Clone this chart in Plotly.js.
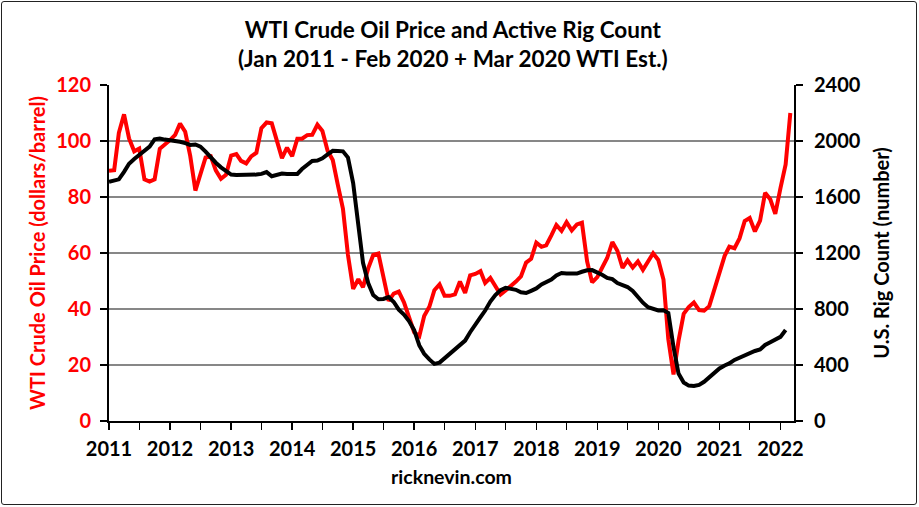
<!DOCTYPE html>
<html>
<head>
<meta charset="utf-8">
<script src="https://cdn.plot.ly/plotly-3.0.1.min.js"></script>
<style>
  html, body { margin: 0; padding: 0; background: #fff; }
  #wrap { position: relative; width: 919px; height: 507px; }
  #chart { position: absolute; left: 0; top: 0; width: 919px; height: 507px; }
  #frame { position: absolute; left: 1px; top: 1px; width: 914px; height: 502px;
           border: 1px solid #222; border-radius: 3px; pointer-events: none; }
</style>
</head>
<body>
<div id="wrap"><div id="chart"></div><div id="frame"></div></div>
<script>
// WTI crude oil monthly price (dollars/barrel), Jan 2011 - Mar 2022
const wti = [
  89.4, 89.6, 102.9, 109.5, 100.9, 96.3, 97.3, 86.3, 85.5, 86.3, 97.2, 98.6,
  100.3, 102.2, 106.2, 103.3, 94.7, 82.3, 87.9, 94.1, 94.5, 89.5, 86.5, 87.9,
  94.8, 95.3, 92.9, 92.0, 94.5, 95.8, 104.6, 106.6, 106.3, 100.5, 93.9, 97.6,
  94.6, 100.8, 100.8, 102.1, 102.2, 105.8, 103.6, 96.5, 93.2, 84.4, 75.8, 59.3,
  47.2, 50.6, 47.8, 54.5, 59.3, 59.8, 50.9, 42.9, 45.5, 46.2, 42.4, 37.2,
  31.7, 30.3, 37.5, 40.8, 46.7, 48.8, 44.7, 44.7, 45.2, 49.8, 45.7, 52.0,
  52.5, 53.5, 49.3, 51.1, 48.5, 45.2, 46.6, 48.0, 49.8, 51.6, 56.6, 57.9,
  63.7, 62.2, 62.7, 66.3, 70.0, 67.9, 71.0, 68.1, 70.2, 70.8, 57.0, 49.5,
  51.4, 55.0, 58.2, 63.9, 60.8, 54.7, 57.4, 54.8, 57.0, 54.0, 57.0, 59.9,
  57.5, 50.5, 29.2, 16.6, 28.6, 38.3, 40.7, 42.3, 39.6, 39.4, 41.0, 47.0,
  52.0, 59.0, 62.3, 61.7, 65.2, 71.4, 72.5, 67.7, 71.6, 81.5, 79.2, 74.0,
  83.2, 91.6, 110.0
];
// U.S. active rig count (monthly average), Jan 2011 - Feb 2022
const rigs = [
  1709, 1716, 1726, 1780, 1838, 1872, 1900, 1930, 1960, 2012, 2018, 2010,
  2007, 2003, 1995, 1985, 1972, 1975, 1960, 1924, 1880, 1845, 1812, 1785,
  1760, 1757, 1757, 1757, 1757, 1760, 1765, 1778, 1748, 1755, 1767, 1765,
  1762, 1765, 1800, 1829, 1858, 1860, 1876, 1905, 1930, 1928, 1926, 1882,
  1700, 1400, 1130, 985, 900, 870, 872, 885, 850, 795, 760, 714,
  650, 540, 480, 440, 408, 417, 449, 481, 510, 544, 574, 634,
  683, 742, 789, 853, 900, 935, 952, 947, 937, 919, 914, 930,
  947, 975, 990, 1010, 1040, 1057, 1054, 1050, 1053, 1066, 1077, 1078,
  1063, 1043, 1022, 1013, 985, 974, 957, 929, 881, 845, 813, 804,
  790, 791, 772, 529, 339, 275, 253, 250, 258, 280, 313, 338,
  375, 397, 411, 436, 453, 470, 488, 500, 511, 543, 563, 580,
  601, 650
];
const startYear = 2011;
// month categories (YYYY-MM-01)
function monthLabels(n) {
  const out = [];
  for (let i = 0; i < n; i++) {
    const y = startYear + Math.floor(i / 12);
    const m = (i % 12) + 1;
    out.push(y + '-' + (m < 10 ? '0' + m : m) + '-01');
  }
  return out;
}
const monthsWti = monthLabels(wti.length);
const monthsRig = monthLabels(rigs.length);

const FONT = 'Lato, "Open Sans", sans-serif';

const traces = [
  { x: monthsWti, y: wti, type: 'scatter', mode: 'lines', name: 'WTI',
    line: { color: '#ff0000', width: 4 }, yaxis: 'y', hoverinfo: 'skip' },
  { x: monthsRig, y: rigs, type: 'scatter', mode: 'lines', name: 'Rigs',
    line: { color: '#000000', width: 4 }, yaxis: 'y2', hoverinfo: 'skip' }
];

const layout = {
  width: 919, height: 507,
  margin: { l: 109, r: 125, t: 85, b: 86, pad: 0 },
  paper_bgcolor: '#ffffff', plot_bgcolor: '#ffffff',
  showlegend: false,
  font: { family: FONT, color: '#000', size: 20, weight: 700 },
  title: {
    text: 'WTI Crude Oil Price and Active Rig Count<br>(Jan 2011 - Feb 2020 + Mar 2020 WTI Est.)',
    font: { family: FONT, size: 22.5, color: '#000', weight: 700 },
    x: 0.502, xref: 'paper', xanchor: 'center', y: 0.925, yref: 'container', yanchor: 'top'
  },
  xaxis: {
    type: 'date',
    range: ['2011-01-01', '2022-03-23'],
    tick0: '2011-01-01', dtick: 'M12', tickformat: '%Y',
    ticks: 'outside', ticklen: 7, tickwidth: 1.5, tickcolor: '#000',
    showline: true, linecolor: '#000', linewidth: 2,
    showgrid: false, zeroline: false,
    tickfont: { family: FONT, size: 20, color: '#000', weight: 700 },
    ticklabelstandoff: 2,
    minor: { tick0: '2011-01-01', dtick: 'M6', ticks: 'outside', ticklen: 7, tickwidth: 1.5, tickcolor: '#000', showgrid: false },
    title: { text: 'ricknevin.com', font: { family: FONT, size: 19.5, color: '#000', weight: 700 }, standoff: 11 },
    fixedrange: true
  },
  yaxis: {
    range: [0, 120], dtick: 20, tick0: 0,
    ticks: 'outside', ticklen: 7, tickwidth: 1.5, tickcolor: '#000',
    showline: true, linecolor: '#000', linewidth: 2,
    showgrid: true, gridcolor: '#878787', gridwidth: 1.3, zeroline: false,
    tickfont: { family: FONT, size: 20, color: '#ff0000', weight: 700 },
    ticklabelstandoff: 5,
    title: { text: 'WTI Crude Oil Price (dollars/barrel)', font: { family: FONT, size: 20, color: '#ff0000', weight: 700 }, standoff: 5 },
    fixedrange: true
  },
  yaxis2: {
    overlaying: 'y', side: 'right',
    range: [0, 2400], dtick: 400, tick0: 0,
    ticks: 'outside', ticklen: 7, tickwidth: 1.5, tickcolor: '#000',
    showline: true, linecolor: '#000', linewidth: 2,
    showgrid: false, zeroline: false,
    tickfont: { family: FONT, size: 20, color: '#000', weight: 700 },
    ticklabelstandoff: 7,
    title: { text: 'U.S. Rig Count (number)', font: { family: FONT, size: 20, color: '#000', weight: 700 }, standoff: 15 },
    fixedrange: true
  }
};

Plotly.newPlot('chart', traces, layout, { displayModeBar: false, staticPlot: true });
</script>
</body>
</html>
